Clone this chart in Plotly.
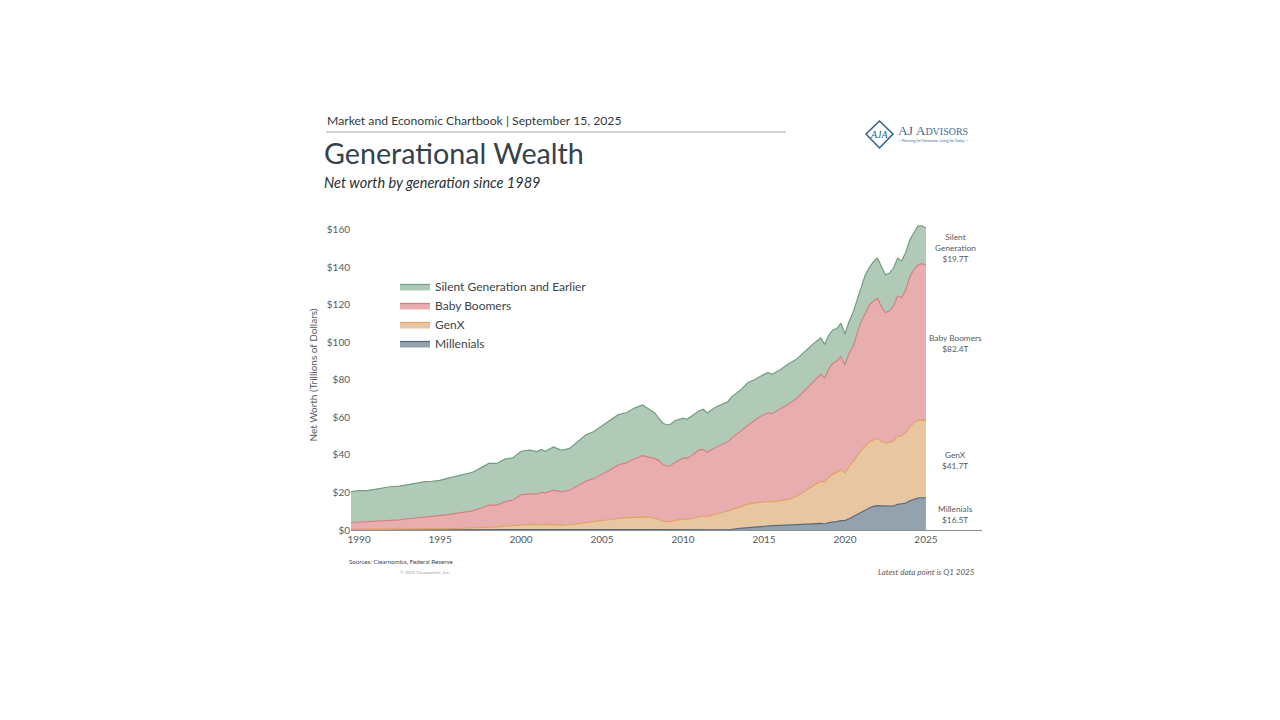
import plotly.graph_objects as go

# quarters as decimal years, Q1 2025 sits on the 2025 tick
dates = [1989.5, 1990, 1990.5, 1991, 1991.5, 1992, 1992.5, 1993, 1993.5, 1994, 1994.5,
         1995, 1995.5, 1996, 1996.5, 1997, 1997.5, 1998, 1998.5, 1999, 1999.5,
         2000, 2000.5, 2001, 2001.25, 2001.5, 2002, 2002.5, 2003, 2003.5, 2004, 2004.5,
         2005, 2005.5, 2006, 2006.5, 2007,
         2007.5, 2008, 2008.25, 2008.5, 2008.75, 2009, 2009.25, 2009.5,
         2010, 2010.25, 2010.5, 2011, 2011.25, 2011.5, 2012, 2012.5, 2012.75, 2013, 2013.5,
         2014, 2014.5,
         2015, 2015.25, 2015.5, 2016, 2016.5, 2017, 2017.5, 2018, 2018.5, 2018.75,
         2019, 2019.25, 2019.5, 2019.75, 2020, 2020.25, 2020.5, 2020.75,
         2021, 2021.25, 2021.5, 2021.75, 2022, 2022.25, 2022.5, 2022.75,
         2023, 2023.25, 2023.5, 2023.75, 2024, 2024.25, 2024.5, 2024.75, 2025]

millennials = [0, 0, 0, 0, 0, 0, 0, 0, 0, 0, 0,
               0, 0, 0, 0, 0, 0, 0, 0, 0, 0,
               0, 0, 0, 0, 0, 0, 0, 0, 0, 0, 0,
               0, 0, 0, 0, 0,
               0, 0, 0, 0, 0, 0, 0, 0,
               0, 0, 0, 0, 0, 0, 0, 0, 0.1, 0.4, 0.9,
               1.3, 1.7,
               2.1, 2.2, 2.3, 2.5, 2.8, 2.9, 3.1, 3.3, 3.5, 3.2,
               3.9, 4.1, 4.5, 5, 5, 6, 7.2, 8.5,
               9.7, 10.6, 11.7, 12.6, 13, 12.9, 12.7, 12.7,
               12.8, 13.7, 14, 14.3, 15.6, 16.5, 17, 17.2, 17.2]

genx = [0.3, 0.3, 0.3, 0.4, 0.4, 0.4, 0.4, 0.5, 0.5, 0.5, 0.5,
        0.6, 0.7, 0.8, 0.9, 1.0, 1.3, 1.5, 1.7, 2.0, 2.3,
        2.9, 3.0, 2.8, 2.9, 2.8, 3.0, 2.6, 2.8, 3.4, 3.9, 4.3,
        5, 5.6, 6.2, 6.4, 6.9,
        7, 6.8, 6.4, 5.6, 4.8, 4.4, 4.6, 5,
        5.9, 5.6, 6.2, 7.3, 7.6, 7.3, 8.6, 9.6, 9.9, 10.4, 11.5,
        12.5, 12.8,
        12.9, 13, 12.7, 13, 13.5, 15.1, 17.4, 20.2, 22.5, 22.2,
        24.1, 25.7, 26.5, 27, 25.4, 27.8, 29.1, 31,
        33, 34.2, 35.3, 35.4, 36, 34.6, 33.7, 34,
        34.7, 36.3, 36.3, 37.7, 39.4, 40.5, 41.5, 41.5, 41.3]

boomers = [3.7, 3.9, 4.0, 4.2, 4.6, 4.8, 5.0, 5.5, 5.9, 6.2, 6.5,
           6.8, 7.5, 8.1, 8.6, 9.2, 10.3, 11.8, 11.6, 13, 13.7,
           15.9, 16.3, 16.4, 17.2, 17, 18.2, 17.7, 18.4, 20.1, 22.1, 23.2,
           24.8, 26.4, 28.6, 29.4, 31.1,
           32.6, 31.8, 31.8, 31.4, 30.2, 29.6, 29.9, 31,
           32.4, 32.6, 33.3, 35.4, 35.4, 34.1, 35.4, 36.4, 36.9, 38.2, 40.1,
           42.2, 44.5,
           46.5, 47.3, 47, 49, 50.7, 52, 54, 55.5, 57, 55.6,
           58, 59.2, 59, 60.5, 57.6, 60.5, 61.4, 65.5,
           68.3, 70.7, 73, 74, 74.6, 71.5, 69.4, 70.3,
           72, 74.8, 73.7, 76, 80, 81.7, 82.8, 83.3, 82.8]

silent = [16.5, 16.8, 16.7, 17.2, 17.3, 18.0, 18.0, 18.3, 18.6, 19.0, 19.0,
          19.1, 19.5, 19.9, 20.3, 20.6, 21.4, 22.2, 22.2, 22.8, 22.5,
          23.2, 23.3, 22.6, 22.9, 22.2, 23.1, 22.2, 22.3, 23.5, 24.8, 25,
          25.7, 26.5, 26.7, 26.7, 27,
          27.1, 25, 24.2, 22.7, 22, 22, 22, 22.3,
          21.3, 20.8, 20.9, 20.9, 21.4, 21, 21.5, 21.2, 21.4, 22, 21.7,
          22.5, 21.5,
          21.5, 21.5, 21, 21, 21.5, 21, 20.5, 20, 19.4, 18,
          18, 17.7, 17.4, 17.8, 16.5, 16.7, 18.3, 17.7,
          18.6, 20.5, 20, 21, 21.4, 21, 20.2, 20,
          20.2, 20.2, 19.5, 20, 19.7, 19.8, 20.7, 20.2, 19.7]

year_ticks = [1990, 1995, 2000, 2005, 2010, 2015, 2020, 2025]
worth_ticks = [0, 20, 40, 60, 80, 100, 120, 140, 160]
worth_labels = ["$0", "$20", "$40", "$60", "$80", "$100", "$120", "$140", "$160"]

FONT = "Lato"
INK = "#555b61"

# plot box in page pixels, everything outside is placed relative to it
L, R, T, B = 351, 982, 220, 530
BODY = 8  # the page body margin pushes the figure this far right and down


def px(x):
    return (x - L) / (R - L)


def py(y):
    return (B - y) / (B - T)


fig = go.Figure()

series = [
    ("Millenials", millennials, "#94a2ad", "#56697a"),
    ("GenX", genx, "#e8c6a2", "#e0a263"),
    ("Baby Boomers", boomers, "#e8aeaf", "#d47f80"),
    ("Silent Generation and Earlier", silent, "#b0cab7", "#6f9f80"),
]
for name, values, fill, line in series:
    fig.add_trace(go.Scatter(
        x=dates, y=values, name=name, mode="lines", stackgroup="one",
        fillcolor=fill, line=dict(color=line, width=1.2),
    ))


def label(x, y, text, size, color=INK, anchor="center", family=FONT):
    fig.add_annotation(
        x=px(x), y=py(y), xref="paper", yref="paper", text=text, showarrow=False,
        xanchor=anchor, yanchor="middle", font=dict(family=family, size=size, color=color),
    )


# header
label(325, 120, "Market and Economic Chartbook | September 15, 2025", 12.2, "#33393f", "left")
label(322, 153, "Generational Wealth", 28.7, "#35424e", "left")
label(322, 182, "<i>Net worth by generation since 1989</i>", 14.5, "#2b3036", "left")
fig.add_shape(type="line", xref="paper", yref="paper", x0=px(326), x1=px(786), y0=py(132), y1=py(132),
              line=dict(color="#c4c4c4", width=1.3))

# logo
fig.add_shape(type="path", xref="paper", yref="paper",
              path=f"M {px(866)} {py(134)} L {px(879.5)} {py(121)} L {px(893)} {py(134)} L {px(879.5)} {py(148)} Z",
              line=dict(color="#2f6190", width=1.5), fillcolor="white")
label(879.5, 134, "<i>AJA</i>", 10, "#2f6190", family="Liberation Serif")
label(896, 130, "AJ A<span style='font-size:10px'>DVISORS</span>", 13.5, "#3f6b93", "left", "Liberation Serif")
label(896, 140.5, "— Planning for Tomorrow. Living for Today. —", 3.6, "#3f6b93", "left")

# end labels
label(955, 247.5, "Silent<br>Generation<br>$19.7T", 8.3)
label(955, 343.5, "Baby Boomers<br>$82.4T", 8.3)
label(955, 460.5, "GenX<br>$41.7T", 8.3)
label(955, 514.5, "Millenials<br>$16.5T", 8.3)

# footer
label(347, 561, "Sources: Clearnomics, Federal Reserve", 6.2, "#3d4348", "left")
label(398, 572, "© 2025 Clearnomics, Inc.", 4.5, "#9a9ea2", "left")
label(977, 572, "<i>Latest data point is Q1 2025</i>", 8, "#555b61", "right")

fig.update_layout(
    width=1280, height=720, autosize=False,
    margin=dict(l=L - BODY, r=1280 - R + BODY, t=T - BODY, b=720 - B + BODY, pad=0),
    paper_bgcolor="white", plot_bgcolor="white",
    font=dict(family=FONT, color=INK),
    legend=dict(
        x=px(395), y=py(272), xanchor="left", yanchor="top", traceorder="reversed",
        font=dict(family=FONT, size=12, color="#3d4348"), bgcolor="rgba(0,0,0,0)",
        tracegroupgap=0, itemclick=False,
    ),
)
fig.update_xaxes(
    range=[1989.5, 2028.46], tickvals=year_ticks, showgrid=False, zeroline=False,
    showline=True, linecolor="#8a8f94", linewidth=1, ticks="", tickfont=dict(size=10, color=INK),
)
fig.update_yaxes(
    range=[0, 165.3], tickvals=worth_ticks, ticktext=worth_labels, showgrid=False, zeroline=False,
    showline=False, ticks="", tickfont=dict(size=10, color=INK),
    title=dict(text="Net Worth (Trillions of Dollars)", font=dict(size=10, color=INK), standoff=7),
)

fig.write_html("out.html")
